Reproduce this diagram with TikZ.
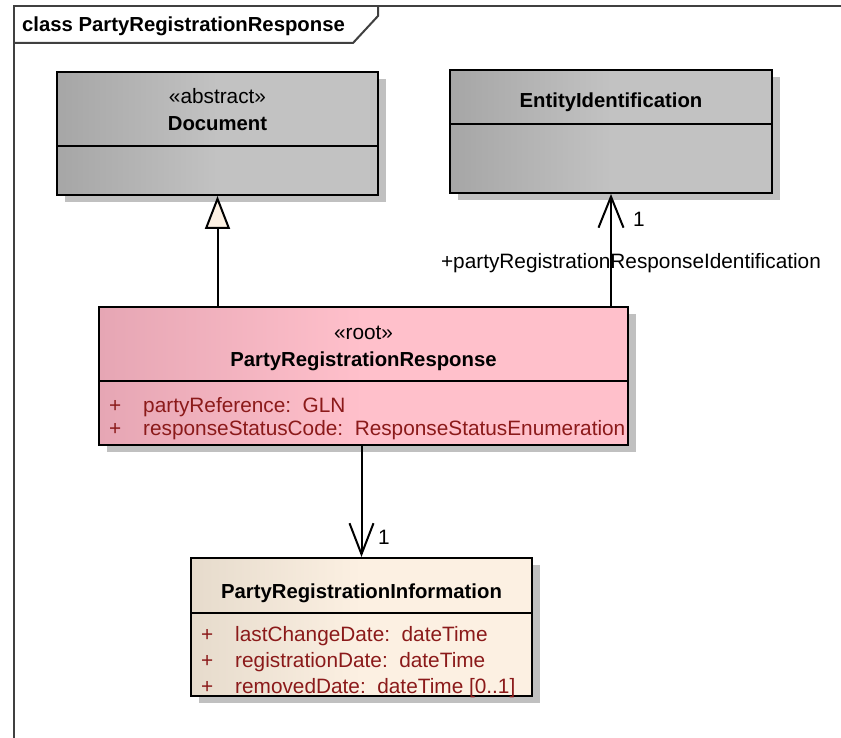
\documentclass[tikz,border=0pt]{standalone}
\usepackage{fontspec}
\setmainfont{Liberation Sans}
\usetikzlibrary{arrows.meta,shadows}
\definecolor{docL}{HTML}{A6A6A6}
\definecolor{docR}{HTML}{C2C2C2}
\definecolor{rootL}{HTML}{E6A6B4}
\definecolor{rootR}{HTML}{FFC0CB}
\definecolor{infoL}{HTML}{E6DBCC}
\definecolor{infoR}{HTML}{FCF0E2}
\definecolor{attrred}{HTML}{8B1A1A}
\definecolor{shade}{HTML}{C0C0C0}
\definecolor{framegray}{HTML}{404040}

\begin{document}
\begin{tikzpicture}[x=1pt,y=-1pt,
		classbox/.style={draw=black, line width=2pt, inner sep=0pt, drop shadow={shadow xshift=8pt, shadow yshift=-7pt, opacity=1, fill=shade}},
		txt/.style={font=\fontsize{20.8}{24}\selectfont, inner sep=0pt},
		classname/.style={txt, font=\fontsize{20.3}{24}\selectfont\bfseries, anchor=base},
		stereo/.style={txt, anchor=base},
		attr/.style={txt, text=attrred, anchor=base west},
		conn/.style={line width=2pt}]
			%%%%% START %%%%%
			\useasboundingbox (0,0) rectangle (841,738);
			
			% frame
			\draw[framegray, line width=2pt] (841,6) -- (14,6) -- (14,738);
			\draw[framegray, line width=2pt] (14,43) -- (353,43) -- (378,16) -- (378,6);
			\node[classname, anchor=base west] (frametitle) at (22,32) {class PartyRegistrationResponse};
			
			% Document
			\node[classbox, left color=docL, right color=docR, middle color=docR, minimum width=321pt, minimum height=123pt] (document) at (217.5,133.5) {};
			\draw[line width=2pt] (57,146) -- (378,146);
			\node[stereo] (docstereo) at (217.5,104) {«abstract»};
			\node[classname] (docname) at (217.5,131) {Document};
			
			% EntityIdentification
			\node[classbox, left color=docL, right color=docR, middle color=docR, minimum width=322pt, minimum height=123pt] (entity) at (611,131.5) {};
			\draw[line width=2pt] (450,124) -- (772,124);
			\node[classname] (entityname) at (611,108) {EntityIdentification};
			
			% PartyRegistrationResponse
			\node[classbox, left color=rootL, right color=rootR, middle color=rootR, minimum width=529pt, minimum height=138pt] (prr) at (363.5,376) {};
			\draw[line width=2pt] (99,381) -- (628,381);
			\node[stereo] (prrstereo) at (363.5,339) {«root»};
			\node[classname] (prrname) at (363.5,366) {PartyRegistrationResponse};
			\node[attr] (prrplusA) at (109,412) {+};
			\node[attr] (prrattrA) at (143,412) {partyReference:\ \ GLN};
			\node[attr] (prrplusB) at (109,435) {+};
			\node[attr] (prrattrB) at (143,435) {responseStatusCode:\ \ ResponseStatusEnumeration};
			
			% PartyRegistrationInformation
			\node[classbox, left color=infoL, right color=infoR, middle color=infoR, minimum width=341pt, minimum height=138pt] (info) at (361.5,627) {};
			\draw[line width=2pt] (191,613) -- (532,613);
			\node[classname] (infoname) at (361.5,598) {PartyRegistrationInformation};
			\node[attr] (infoplusA) at (201,641) {+};
			\node[attr] (infoattrA) at (235,641) {lastChangeDate:\ \ dateTime};
			\node[attr] (infoplusB) at (201,667) {+};
			\node[attr] (infoattrB) at (235,667) {registrationDate:\ \ dateTime};
			\node[attr] (infoplusC) at (201,693) {+};
			\node[attr] (infoattrC) at (235,693) {removedDate:\ \ dateTime [0..1]};
			
			% connectors
			\draw[conn, -{Triangle[length=33pt, width=25pt, fill=infoR]}] (document.south |- prr.north) -- (document.south);
			\draw[conn, -{Straight Barb[length=31pt, width=25pt]}] (entity.south |- prr.north) -- (entity.south);
			\draw[conn, -{Straight Barb[length=31pt, width=24pt]}] (info.north |- prr.south) -- (info.north);
			
			\node[stereo, anchor=base west] (entitymult) at (633,227) {1};
			\node[stereo] (entityrole) at (631,269) {+partyRegistrationResponseIdentification};
			\node[stereo, anchor=base west] (infomult) at (378,544) {1};
			%%%%% END %%%%%
		\end{tikzpicture}
\end{document}
